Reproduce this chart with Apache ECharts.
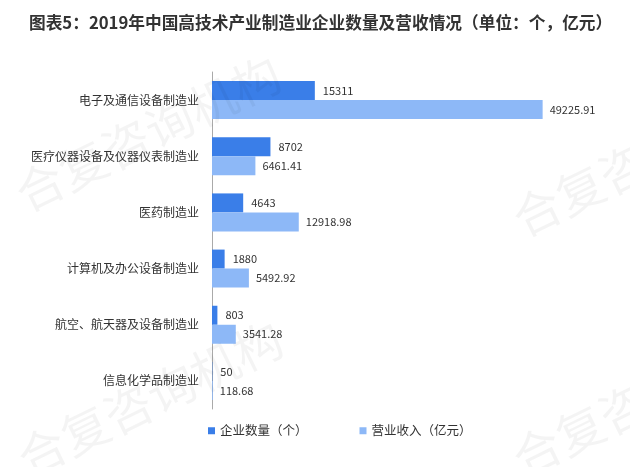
<!DOCTYPE html>
<html><head><meta charset="utf-8">
<script src="https://cdn.jsdelivr.net/npm/echarts@6/dist/echarts.min.js"></script>
<style>html,body{margin:0;padding:0;background:#fff;}#c{width:630px;height:467px;}</style>
</head><body><div id="c"></div>
<script>
const categories = ['电子及通信设备制造业','医疗仪器设备及仪器仪表制造业','医药制造业','计算机及办公设备制造业','航空、航天器及设备制造业','信息化学品制造业'];
const companyCount = [15311, 8702, 4643, 1880, 803, 50];
const revenue = [49225.91, 6461.41, 12918.98, 5492.92, 3541.28, 118.68];
const seriesNames = ['企业数量（个）', '营业收入（亿元）'];
const titleText = '图表5：2019年中国高技术产业制造业企业数量及营收情况（单位：个，亿元）';
const watermarkText = '合复咨询机构';

const chart = echarts.init(document.getElementById('c'));
const font = '"Noto Sans CJK SC", "Noto Sans", sans-serif';
const rot = 26 * Math.PI / 180;
function wm(x, y) {
  return { type: 'text', x: x, y: y, rotation: rot, z: 100, silent: true,
    style: { text: watermarkText, font: '48px "Noto Sans CJK SC"', fill: 'rgba(0,0,0,0.045)', textBaseline: 'bottom' } };
}
chart.setOption({
  backgroundColor: '#fff',
  animation: false,
  title: { text: titleText, left: 24, top: 9, textStyle: { fontSize: 16.7, fontWeight: 'bold', color: '#333', fontFamily: font } },
  legend: {
    data: seriesNames, bottom: 25, left: 203, itemWidth: 7, itemHeight: 7, itemGap: 52,
    icon: 'rect', textStyle: { fontSize: 12.5, color: '#333', fontFamily: font }
  },
  grid: { left: 212, right: 15, top: 72, bottom: 58, containLabel: false },
  xAxis: { type: 'value', min: 0, max: 60000, show: false },
  yAxis: {
    type: 'category', data: categories, inverse: true,
    axisLine: { show: true, lineStyle: { color: '#aaa', width: 1 } },
    axisTick: { show: false },
    axisLabel: { margin: 13, fontSize: 12, color: '#333', fontFamily: font }
  },
  graphic: [wm(8, 175), wm(10, 440), wm(505, 200), wm(505, 440)],
  series: [
    { name: seriesNames[0], type: 'bar', data: companyCount, barWidth: 19, barGap: '0%',
      itemStyle: { color: '#3A7EE8' },
      label: { show: true, position: 'right', distance: 8, fontSize: 11, color: '#333', fontFamily: font } },
    { name: seriesNames[1], type: 'bar', data: revenue, barWidth: 19,
      itemStyle: { color: '#8DB8F7' },
      label: { show: true, position: 'right', distance: 7, fontSize: 11, color: '#333', fontFamily: font } }
  ]
});
</script></body></html>
